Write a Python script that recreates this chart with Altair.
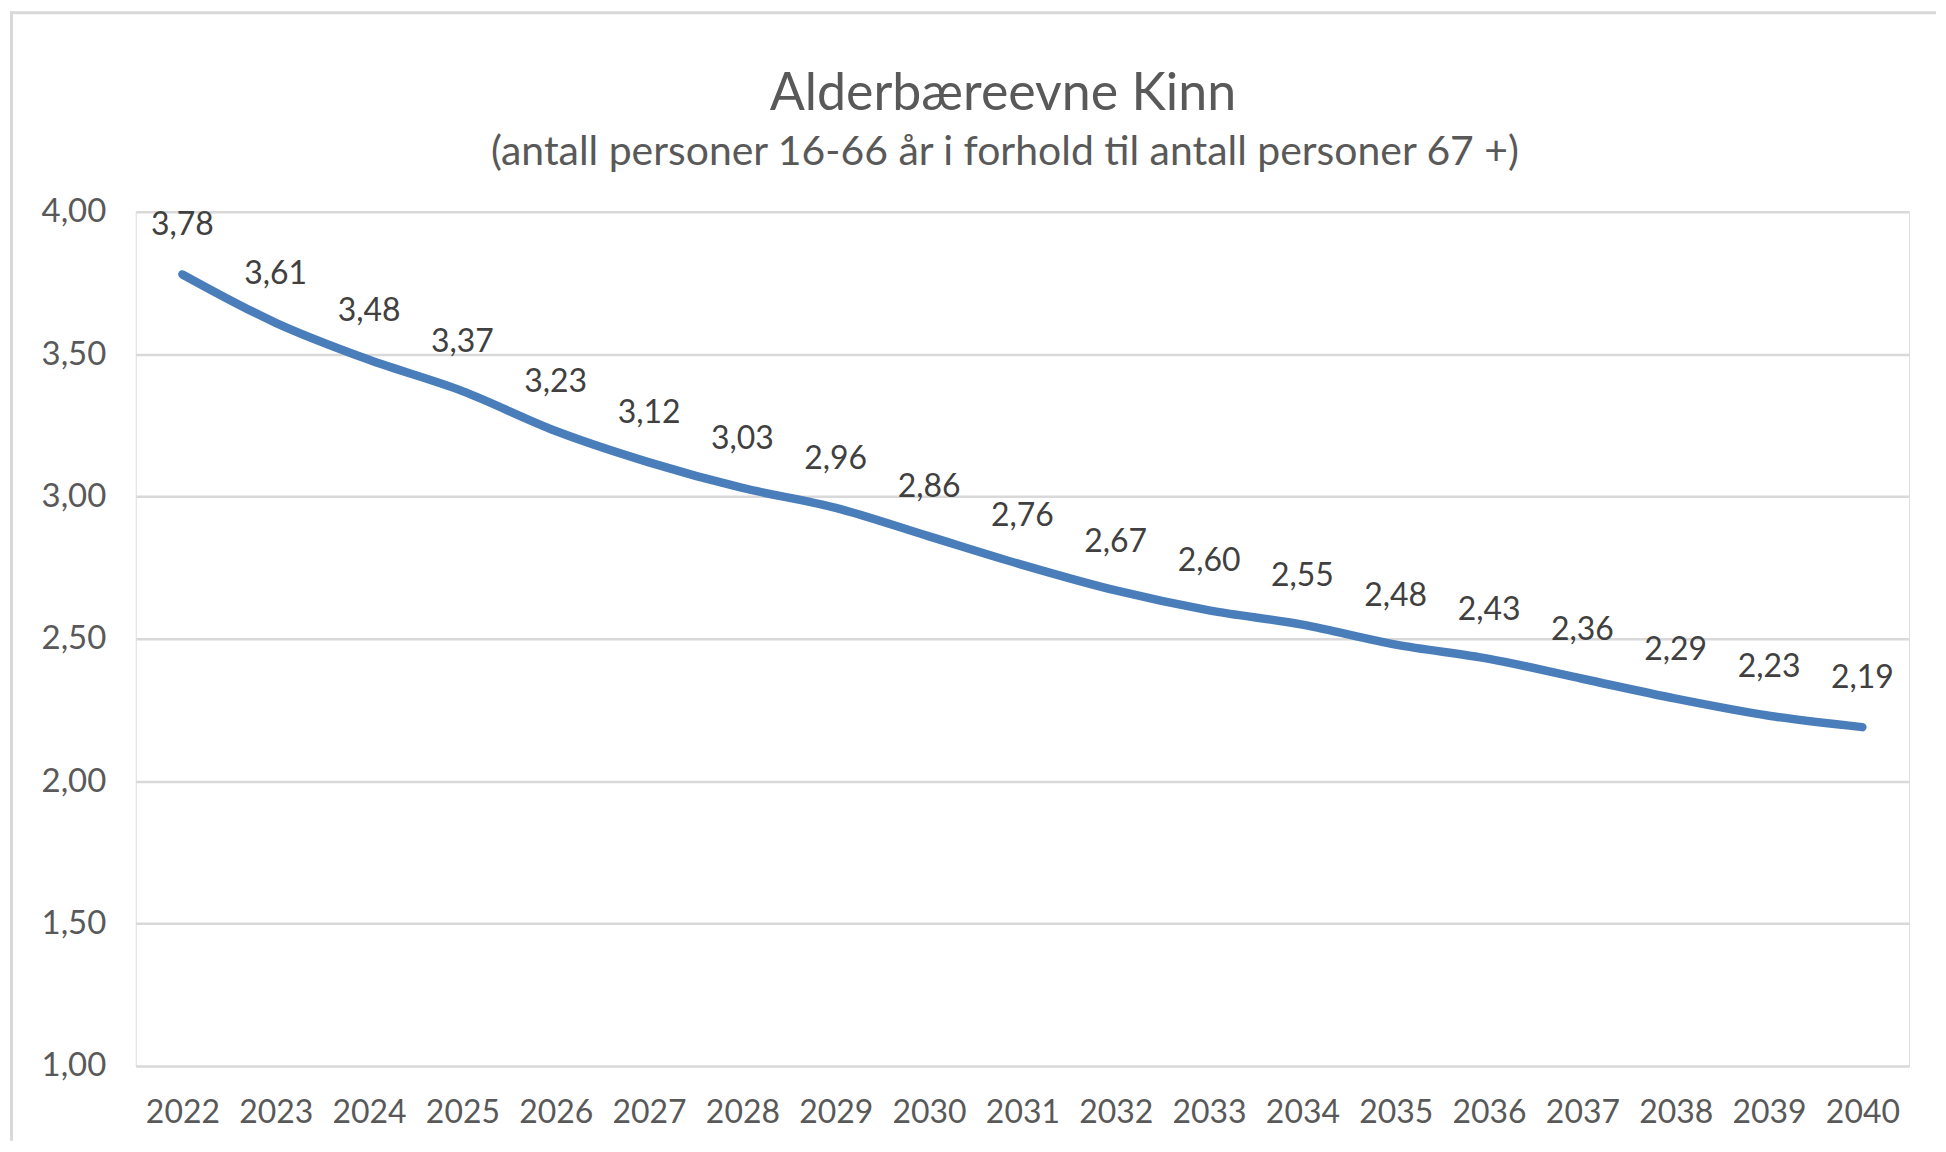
import altair as alt
import pandas as pd

years = [str(y) for y in range(2022, 2041)]
values = [3.78, 3.61, 3.48, 3.37, 3.23, 3.12, 3.03, 2.96, 2.86, 2.76,
          2.67, 2.60, 2.55, 2.48, 2.43, 2.36, 2.29, 2.23, 2.19]
y_ticks = [1.0, 1.5, 2.0, 2.5, 3.0, 3.5, 4.0]
title_text = "Alderbæreevne Kinn"
subtitle_text = "(antall personer 16-66 år i forhold til antall personer 67 +)"

df = pd.DataFrame({"year": years, "value": values})
df["label"] = [f"{v:.2f}".replace(".", ",") for v in values]

W, H = 1777, 856
FONT = "Lato"
GRID = "#D9D9D9"

x_enc = alt.X("year:O", title=None,
              axis=alt.Axis(labelAngle=0, domain=False, ticks=False,
                            labelPadding=32, labelFontSize=32, labelFont=FONT,
                            labelColor="#595959", grid=False))
y_enc = alt.Y("value:Q", title=None,
              scale=alt.Scale(domain=[1, 4], nice=False, zero=False),
              axis=alt.Axis(values=y_ticks, domain=False, ticks=False,
                            labelExpr="replace(format(datum.value, '.2f'), '.', ',')",
                            labelPadding=30, labelFontSize=33, labelFont=FONT,
                            labelColor="#595959", gridColor=GRID, gridWidth=2.5))

base = alt.Chart(df)
line = base.mark_line(color="#4A7EBB", strokeWidth=8.5, strokeCap="round",
                      strokeJoin="round", interpolate="monotone").encode(x=x_enc, y=y_enc)
labels = base.mark_text(font=FONT, fontSize=32, color="#404040",
                        baseline="alphabetic", align="center", dy=-39).encode(
    x="year:O", y="value:Q", text="label:N")

one = alt.Data(values=[{}])
title = alt.Chart(one).mark_text(text=title_text, font=FONT, fontSize=52,
                                 color="#595959", align="center",
                                 baseline="alphabetic").encode(
    x=alt.value(869), y=alt.value(-102))
subtitle = alt.Chart(one).mark_text(text=subtitle_text, font=FONT, fontSize=41,
                                    color="#595959", align="center",
                                    baseline="alphabetic").encode(
    x=alt.value(871), y=alt.value(-47))
frame_left = alt.Chart(one).mark_rule(color=GRID, strokeWidth=3).encode(
    x=alt.value(-124.5), y=alt.value(-201), y2=alt.value(931))
frame_top = alt.Chart(one).mark_rule(color=GRID, strokeWidth=3).encode(
    x=alt.value(-126), x2=alt.value(1804), y=alt.value(-199.5))

chart = alt.layer(frame_left, frame_top, title, subtitle, line, labels).properties(
    width=W, height=H, padding=0
).configure_view(stroke=None).configure(background="white")

chart.save("out.html", embed_options={"renderer": "svg", "actions": False})
